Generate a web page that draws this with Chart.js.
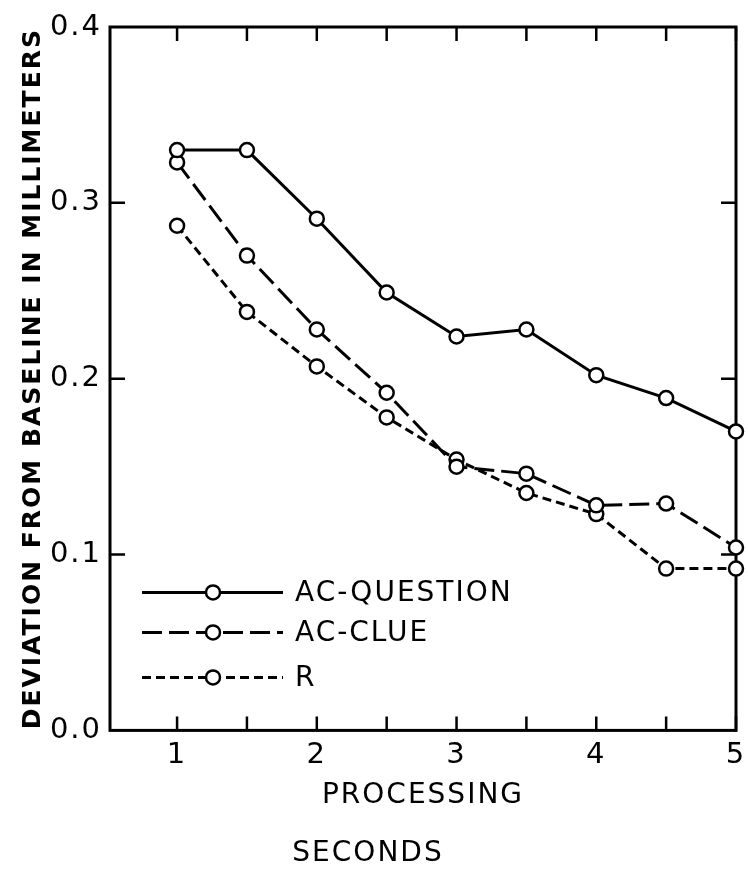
<!DOCTYPE html>
<html>
<head>
<meta charset="utf-8">
<script src="https://cdn.jsdelivr.net/npm/chart.js@4"></script>
<style>
  html, body { margin: 0; padding: 0; background: #fff; }
  #wrap { width: 748px; height: 876px; }
</style>
</head>
<body>
<div id="wrap"><canvas id="myChart" width="748" height="876"></canvas></div>
<script>
'use strict'

// processing time (seconds)
const seconds = [1, 1.5, 2, 2.5, 3, 3.5, 4, 4.5, 5];
// deviation from baseline (mm)
const acQuestion = [0.330, 0.330, 0.291, 0.249, 0.224, 0.228, 0.202, 0.189, 0.170];
const acClue = [0.323, 0.270, 0.228, 0.192, 0.150, 0.146, 0.128, 0.129, 0.104];
const rGroup = [0.287, 0.238, 0.207, 0.178, 0.154, 0.135, 0.123, 0.092, 0.092];

const seriesNames = ['AC-QUESTION', 'AC-CLUE', 'R'];
const xTickLabels = [1, 2, 3, 4, 5];
const xTickMarks = [1, 1.5, 2, 2.5, 3, 3.5, 4, 4.5, 5];
const yTickLabels = [0, 0.1, 0.2, 0.3, 0.4];
const yTickMarks = [0.1, 0.2, 0.3];

const FONT = 'DejaVu Sans';

function toPoints(ys) {
    return seconds.map((x, i) => ({x: x, y: ys[i]}));
}

function makeSet(label, ys, dash) {
    return {
        label: label,
        data: toPoints(ys),
        borderColor: '#000',
        borderWidth: 3,
        borderDash: dash,
        pointRadius: 7,
        pointBorderWidth: 2.5,
        pointBackgroundColor: '#fff',
        pointBorderColor: '#000',
        tension: 0,
        clip: false
    };
}

// frame + inward tick marks
const framePlugin = {
    id: 'frame',
    beforeDraw(chart) {
        chart.ctx.letterSpacing = '2px';
    },
    beforeDatasetsDraw(chart) {
        const {ctx, chartArea: a, scales} = chart;
        ctx.save();
        ctx.strokeStyle = '#000';
        ctx.lineWidth = 3;
        ctx.strokeRect(a.left, a.top, a.right - a.left, a.bottom - a.top);
        ctx.lineWidth = 2.5;
        ctx.beginPath();
        xTickMarks.forEach(v => {
            const px = scales.x.getPixelForValue(v);
            ctx.moveTo(px, a.bottom); ctx.lineTo(px, a.bottom - 14);
            ctx.moveTo(px, a.top); ctx.lineTo(px, a.top + 14);
        });
        yTickMarks.forEach(v => {
            const py = scales.y.getPixelForValue(v);
            ctx.moveTo(a.left, py); ctx.lineTo(a.left + 15, py);
            ctx.moveTo(a.right, py); ctx.lineTo(a.right - 15, py);
        });
        ctx.stroke();
        ctx.restore();
    }
};

// legend inside the plot, sample line - circle - line
const legendPlugin = {
    id: 'inLegend',
    afterDatasetsDraw(chart) {
        const {ctx, chartArea: a} = chart;
        const rows = [-138, -98, -53];
        ctx.save();
        chart.data.datasets.forEach((ds, i) => {
            const y = a.bottom + rows[i];
            const x0 = a.left + 32, x1 = a.left + 173, xc = a.left + 103;
            ctx.strokeStyle = '#000';
            ctx.lineWidth = 3;
            ctx.setLineDash(ds.borderDash);
            ctx.beginPath();
            ctx.moveTo(x0, y); ctx.lineTo(x1, y);
            ctx.stroke();
            ctx.setLineDash([]);
            ctx.lineWidth = 2.5;
            ctx.fillStyle = '#fff';
            ctx.beginPath();
            ctx.arc(xc, y, 7, 0, Math.PI * 2);
            ctx.fill();
            ctx.stroke();
            ctx.fillStyle = '#000';
            ctx.font = '28px "' + FONT + '"';
            ctx.textBaseline = 'middle';
            ctx.textAlign = 'left';
            ctx.fillText(ds.label, a.left + 185, y + 1);
        });
        ctx.restore();
    }
};

const ctx = document.getElementById('myChart');
window.myChart = new Chart(ctx, {
    type: 'line',
    data: {
        datasets: [
            makeSet(seriesNames[0], acQuestion, []),
            makeSet(seriesNames[1], acClue, [20, 7]),
            makeSet(seriesNames[2], rGroup, [9, 5])
        ]
    },
    plugins: [framePlugin, legendPlugin],
    options: {
        responsive: false,
        animation: false,
        devicePixelRatio: 1,
        layout: {padding: {top: 27, right: 12, left: 0, bottom: 0}},
        plugins: {
            legend: {display: false},
            tooltip: {enabled: false},
            title: {
                display: true,
                position: 'bottom',
                text: 'SECONDS',
                color: '#000',
                font: {family: FONT, size: 28, weight: 'normal', lineHeight: 1.2},
                padding: {top: 0, bottom: 5}
            }
        },
        scales: {
            x: {
                type: 'linear',
                min: 0.52,
                max: 5,
                afterFit(scale) {
                    scale.height = 107;
                    scale.paddingLeft = 0;
                    scale.paddingRight = 0;
                },
                afterBuildTicks(scale) { scale.ticks = xTickLabels.map(v => ({value: v})); },
                grid: {display: false, drawTicks: false},
                border: {display: false},
                ticks: {
                    color: '#000',
                    padding: 8,
                    font: {family: FONT, size: 29},
                    callback: v => String(v)
                },
                title: {
                    display: true,
                    text: 'PROCESSING',
                    color: '#000',
                    font: {family: FONT, size: 28, lineHeight: 1.2},
                    padding: {top: 0, bottom: 25}
                }
            },
            y: {
                min: 0,
                max: 0.4,
                afterFit(scale) {
                    scale.width = 110;
                    scale.paddingTop = 0;
                    scale.paddingBottom = 0;
                },
                afterBuildTicks(scale) { scale.ticks = yTickLabels.map(v => ({value: v})); },
                grid: {display: false, drawTicks: false},
                border: {display: false},
                ticks: {
                    color: '#000',
                    padding: 8,
                    font: {family: FONT, size: 29},
                    callback: v => v.toFixed(1)
                },
                title: {
                    display: true,
                    text: 'DEVIATION FROM BASELINE IN MILLIMETERS',
                    color: '#000',
                    font: {family: FONT, size: 25, weight: 'bold', lineHeight: 1.2},
                    padding: {top: 18, bottom: 0}
                }
            }
        }
    }
});
</script>
</body>
</html>
